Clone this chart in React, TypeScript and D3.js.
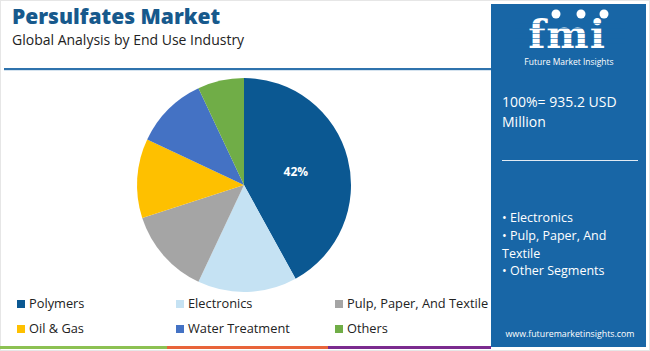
import React from 'react';
import * as d3 from 'd3';

const categories = ['Polymers', 'Electronics', 'Pulp, Paper, And Textile', 'Oil & Gas', 'Water Treatment', 'Others'];
const shares = [42, 15, 13, 12, 11, 7];
const colors = ['#0b5892', '#c5e2f3', '#a5a5a5', '#fec000', '#4472c4', '#70ad47'];
const panelLines = ['100%= 935.2 USD', 'Million'];
const panelBullets = ['• Electronics', '• Pulp, Paper, And', 'Textile', '• Other Segments'];

const font = "'Open Sans', sans-serif";

interface Slice {
  name: string;
  value: number;
  color: string;
}

const slices: Slice[] = categories.map((c, i) => ({ name: c, value: shares[i], color: colors[i] }));

const App: React.FC = () => {
  const width = 650;
  const height = 351;
  const cx = 244;
  const cy = 185;
  const radius = 107;

  const pie = d3.pie<Slice>().value(d => d.value).sort(null);
  const arc = d3.arc<d3.PieArcDatum<Slice>>().innerRadius(0).outerRadius(radius);
  const arcs = pie(slices);

  // legend grid: 3 columns, 2 rows
  const legendX = d3.scaleOrdinal<number, number>().domain([0, 1, 2]).range([17, 176, 335]);
  const legendY = d3.scaleOrdinal<number, number>().domain([0, 1]).range([304, 329]);

  return (
    <div style={{ position: 'absolute', left: 0, top: 0 }}>
      <svg width={width} height={height} style={{ display: 'block', fontFamily: font }}>
        <rect x={0} y={0} width={width} height={height} fill="#ffffff" />
        <rect x={0.5} y={0.5} width={width - 1} height={height - 1} fill="none" stroke="#e6e6e6" />

        <text x={12} y={24} fontSize={21} fontWeight={800} fill="#17598c">Persulfates Market</text>
        <text x={12} y={45} fontSize={14} fill="#222">Global Analysis by End Use Industry</text>

        <rect x={4} y={68} width={487} height={2.2} fill="#2f73ad" />

        <g transform={`translate(${cx},${cy})`}>
          {arcs.map(a => (
            <path key={a.data.name} d={arc(a) ?? ''} fill={a.data.color} />
          ))}
          {arcs.filter(a => a.data.value >= 40).map(a => {
            const [lx, ly] = arc.centroid(a);
            return (
              <text key={a.data.name} x={lx} y={ly} dy="0.35em" textAnchor="middle" fontSize={12} fontWeight={700} fill="#fff">
                {a.data.value}%
              </text>
            );
          })}
        </g>

        {slices.map((s, i) => {
          const x = legendX(i % 3);
          const y = legendY(Math.floor(i / 3));
          return (
            <g key={s.name}>
              <rect x={x} y={y - 4} width={8} height={8} fill={s.color} />
              <text x={x + 12} y={y} dy="0.35em" fontSize={12.8} fill="#222">{s.name}</text>
            </g>
          );
        })}

        <rect x={0} y={346} width={167} height={3} fill="#8cc152" />
        <rect x={167} y={346} width={161} height={3} fill="#e8643a" />
        <rect x={328} y={346} width={163} height={3} fill="#7b2b8f" />

        <g>
          <rect x={491} y={4} width={155} height={343} fill="#1866a6" />
          <text x={567} y={48} textAnchor="middle" fontSize={40} fontWeight={700} fontFamily="'DejaVu Serif', serif" fill="#fff" letterSpacing={1}>fmi</text>
          <circle cx={556} cy={14} r={4.5} fill="#fff" />
          <circle cx={581} cy={14} r={4.5} fill="#fff" />
          <circle cx={604} cy={14} r={4.5} fill="#fff" />
          {[23, 28, 33, 38, 43].map(y => (
            <rect key={y} x={515} y={y} width={110} height={1} fill="#1866a6" opacity={0.6} />
          ))}
          <text x={569} y={65} textAnchor="middle" fontSize={8.5} fill="#fff">Future Market Insights</text>

          {panelLines.map((t, i) => (
            <text key={t} x={502} y={107 + i * 20} fontSize={14} fill="#fff">{t}</text>
          ))}
          <rect x={502} y={160} width={136} height={1} fill="#e0eaf3" />
          {panelBullets.map((t, i) => (
            <text key={t} x={502} y={222 + i * 17.8} fontSize={12.5} fill="#fff">{t}</text>
          ))}
          <text x={570} y={337} textAnchor="middle" fontSize={8.8} fill="#fff">www.futuremarketinsights.com</text>
        </g>
      </svg>
    </div>
  );
};

export default App;
